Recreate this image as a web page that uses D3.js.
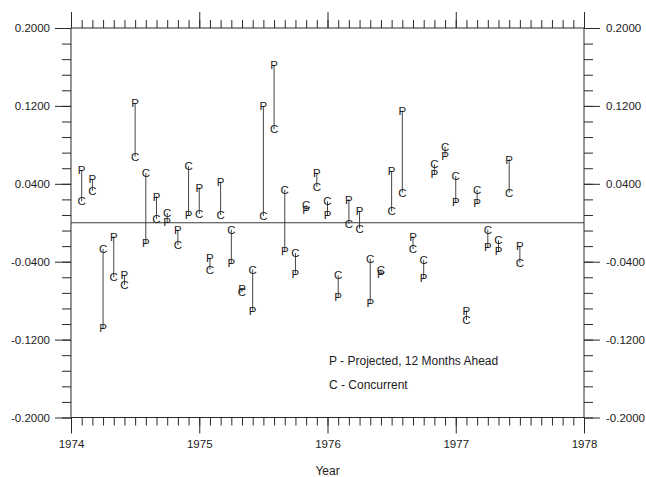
<!DOCTYPE html>
<html>
<head>
<meta charset="utf-8">
<script src="https://cdn.jsdelivr.net/npm/d3@7"></script>
<style>
  html, body { margin: 0; padding: 0; background: #fff; }
  svg { display: block; }
  text { font-family: "Liberation Sans", Arial, Helvetica, sans-serif; fill: #1c1c1c; }
</style>
</head>
<body>
<svg id="chart" width="646" height="477"></svg>
<script>
// Monthly observations, Feb 1974 – Jul 1977 (month index counted from Jan 1974)
const monthIndex = [1,2,3,4,5,6,7,8,9,10,11,12,13,14,15,16,17,18,19,20,21,
                    22,23,24,25,26,27,28,29,30,31,32,33,34,35,36,37,38,39,40,41,42];
// P – projected 12 months ahead
const projected = [0.054, 0.045, -0.108, -0.014, -0.054, 0.123, -0.021, 0.027, 0.001, -0.007, 0.008,
                   0.036, -0.036, 0.042, -0.041, -0.068, -0.090, 0.120, 0.162, -0.029, -0.052,
                   0.013, 0.051, 0.008, -0.076, 0.024, 0.012, -0.082, -0.052, 0.053, 0.115,
                   -0.014, -0.057, 0.050, 0.069, 0.021, -0.090, 0.020, -0.025, -0.029, 0.065, -0.024];
// C – concurrent
const concurrent = [0.022, 0.033, -0.027, -0.056, -0.064, 0.068, 0.051, 0.004, 0.010, -0.023, 0.058,
                    0.009, -0.048, 0.008, -0.007, -0.071, -0.048, 0.007, 0.096, 0.034, -0.031,
                    0.018, 0.037, 0.022, -0.054, -0.001, -0.006, -0.037, -0.048, 0.012, 0.031,
                    -0.027, -0.038, 0.060, 0.078, 0.048, -0.100, 0.034, -0.007, -0.018, 0.031, -0.041];

const yearTicks = [1974, 1975, 1976, 1977, 1978];
const yLabelValues = [0.2, 0.12, 0.04, -0.04, -0.12, -0.2];
const legendLines = ["P - Projected, 12 Months Ahead", "C - Concurrent"];
const xTitle = "Year";

const svg = d3.select("#chart");
const plotLeft = 71, plotRight = 584, plotTop = 28, plotBottom = 417.5;
const ink = "#2a2a2a";

const x = d3.scaleLinear().domain([1974, 1978]).range([plotLeft, plotRight]);
const y = d3.scaleLinear().domain([-0.2, 0.2]).range([plotBottom, plotTop]);

const monthTicks = d3.range(0, 49).map(m => 1974 + m / 12);
const yMinor = d3.range(0, 26).map(k => +(-0.2 + k * 0.016).toFixed(3));
// four decimals with a plain hyphen for negatives
const fmtY = v => v.toFixed(4);

function styleAxis(g) {
  g.select(".domain").remove();
  g.selectAll(".tick line").attr("stroke", ink).attr("stroke-width", 1);
  g.selectAll(".tick text").attr("font-size", 11.5)
    .style("font-family", "'Liberation Sans', Arial, sans-serif").attr("fill", "#1c1c1c");
}

// frame edges
svg.append("g").attr("stroke", ink).attr("stroke-width", 1).attr("fill", "none")
  .selectAll("line")
  .data([[plotLeft, plotTop, plotRight, plotTop], [plotLeft, plotBottom, plotRight, plotBottom],
         [plotLeft, plotTop, plotLeft, plotBottom], [plotRight, plotTop, plotRight, plotBottom]])
  .join("line")
  .attr("x1", d => d[0]).attr("y1", d => d[1]).attr("x2", d => d[2]).attr("y2", d => d[3]);

// x axes: monthly minor ticks, yearly major ticks (outward on top and bottom)
svg.append("g").attr("transform", `translate(0,${plotBottom})`)
  .call(d3.axisBottom(x).tickValues(monthTicks).tickSize(8).tickFormat(""))
  .call(styleAxis);
svg.append("g").attr("transform", `translate(0,${plotBottom})`)
  .call(d3.axisBottom(x).tickValues(yearTicks).tickSize(16).tickPadding(6).tickFormat(d3.format("d")))
  .call(styleAxis);
svg.append("g").attr("transform", `translate(0,${plotTop})`)
  .call(d3.axisTop(x).tickValues(monthTicks).tickSize(8).tickFormat(""))
  .call(styleAxis);
svg.append("g").attr("transform", `translate(0,${plotTop})`)
  .call(d3.axisTop(x).tickValues(yearTicks).tickSize(16).tickFormat(""))
  .call(styleAxis);

// y axes: minor ticks every 0.016, labelled ticks every 0.08
svg.append("g").attr("transform", `translate(${plotLeft},0)`)
  .call(d3.axisLeft(y).tickValues(yMinor).tickSize(9).tickFormat(""))
  .call(styleAxis);
svg.append("g").attr("transform", `translate(${plotLeft},0)`)
  .call(d3.axisLeft(y).tickValues(yLabelValues).tickSize(16).tickPadding(5).tickFormat(fmtY))
  .call(styleAxis);
svg.append("g").attr("transform", `translate(${plotRight},0)`)
  .call(d3.axisRight(y).tickValues(yMinor).tickSize(9).tickFormat(""))
  .call(styleAxis);
svg.append("g").attr("transform", `translate(${plotRight},0)`)
  .call(d3.axisRight(y).tickValues(yLabelValues).tickSize(16).tickPadding(6).tickFormat(fmtY))
  .call(styleAxis);

// zero reference line
svg.append("line")
  .attr("x1", plotLeft).attr("x2", plotRight).attr("y1", y(0)).attr("y2", y(0))
  .attr("stroke", "#3a3a3a").attr("stroke-width", 1);

// paired observations
const pairs = monthIndex.map((m, i) => ({ t: 1974 + m / 12, p: projected[i], c: concurrent[i] }));

const marks = svg.append("g");
marks.selectAll("line.link").data(pairs).join("line")
  .attr("class", "link")
  .attr("x1", d => x(d.t)).attr("x2", d => x(d.t))
  .attr("y1", d => y(d.p)).attr("y2", d => y(d.c))
  .attr("stroke", "#444").attr("stroke-width", 1);

marks.selectAll("text.p").data(pairs).join("text")
  .attr("class", "p")
  .attr("x", d => x(d.t)).attr("y", d => y(d.p)).attr("dy", "0.36em")
  .attr("text-anchor", "middle").attr("font-size", 11.5).text("P");

marks.selectAll("text.c").data(pairs).join("text")
  .attr("class", "c")
  .attr("x", d => x(d.t)).attr("y", d => y(d.c)).attr("dy", "0.36em")
  .attr("text-anchor", "middle").attr("font-size", 11.5).text("C");

// legend
svg.append("g").selectAll("text").data(legendLines).join("text")
  .attr("x", 329).attr("y", (d, i) => 365 + i * 24)
  .attr("font-size", 12).text(d => d);

// axis title
svg.append("text").attr("x", (plotLeft + plotRight) / 2).attr("y", 475)
  .attr("text-anchor", "middle").attr("font-size", 12).text(xTitle);
</script>
</body>
</html>
